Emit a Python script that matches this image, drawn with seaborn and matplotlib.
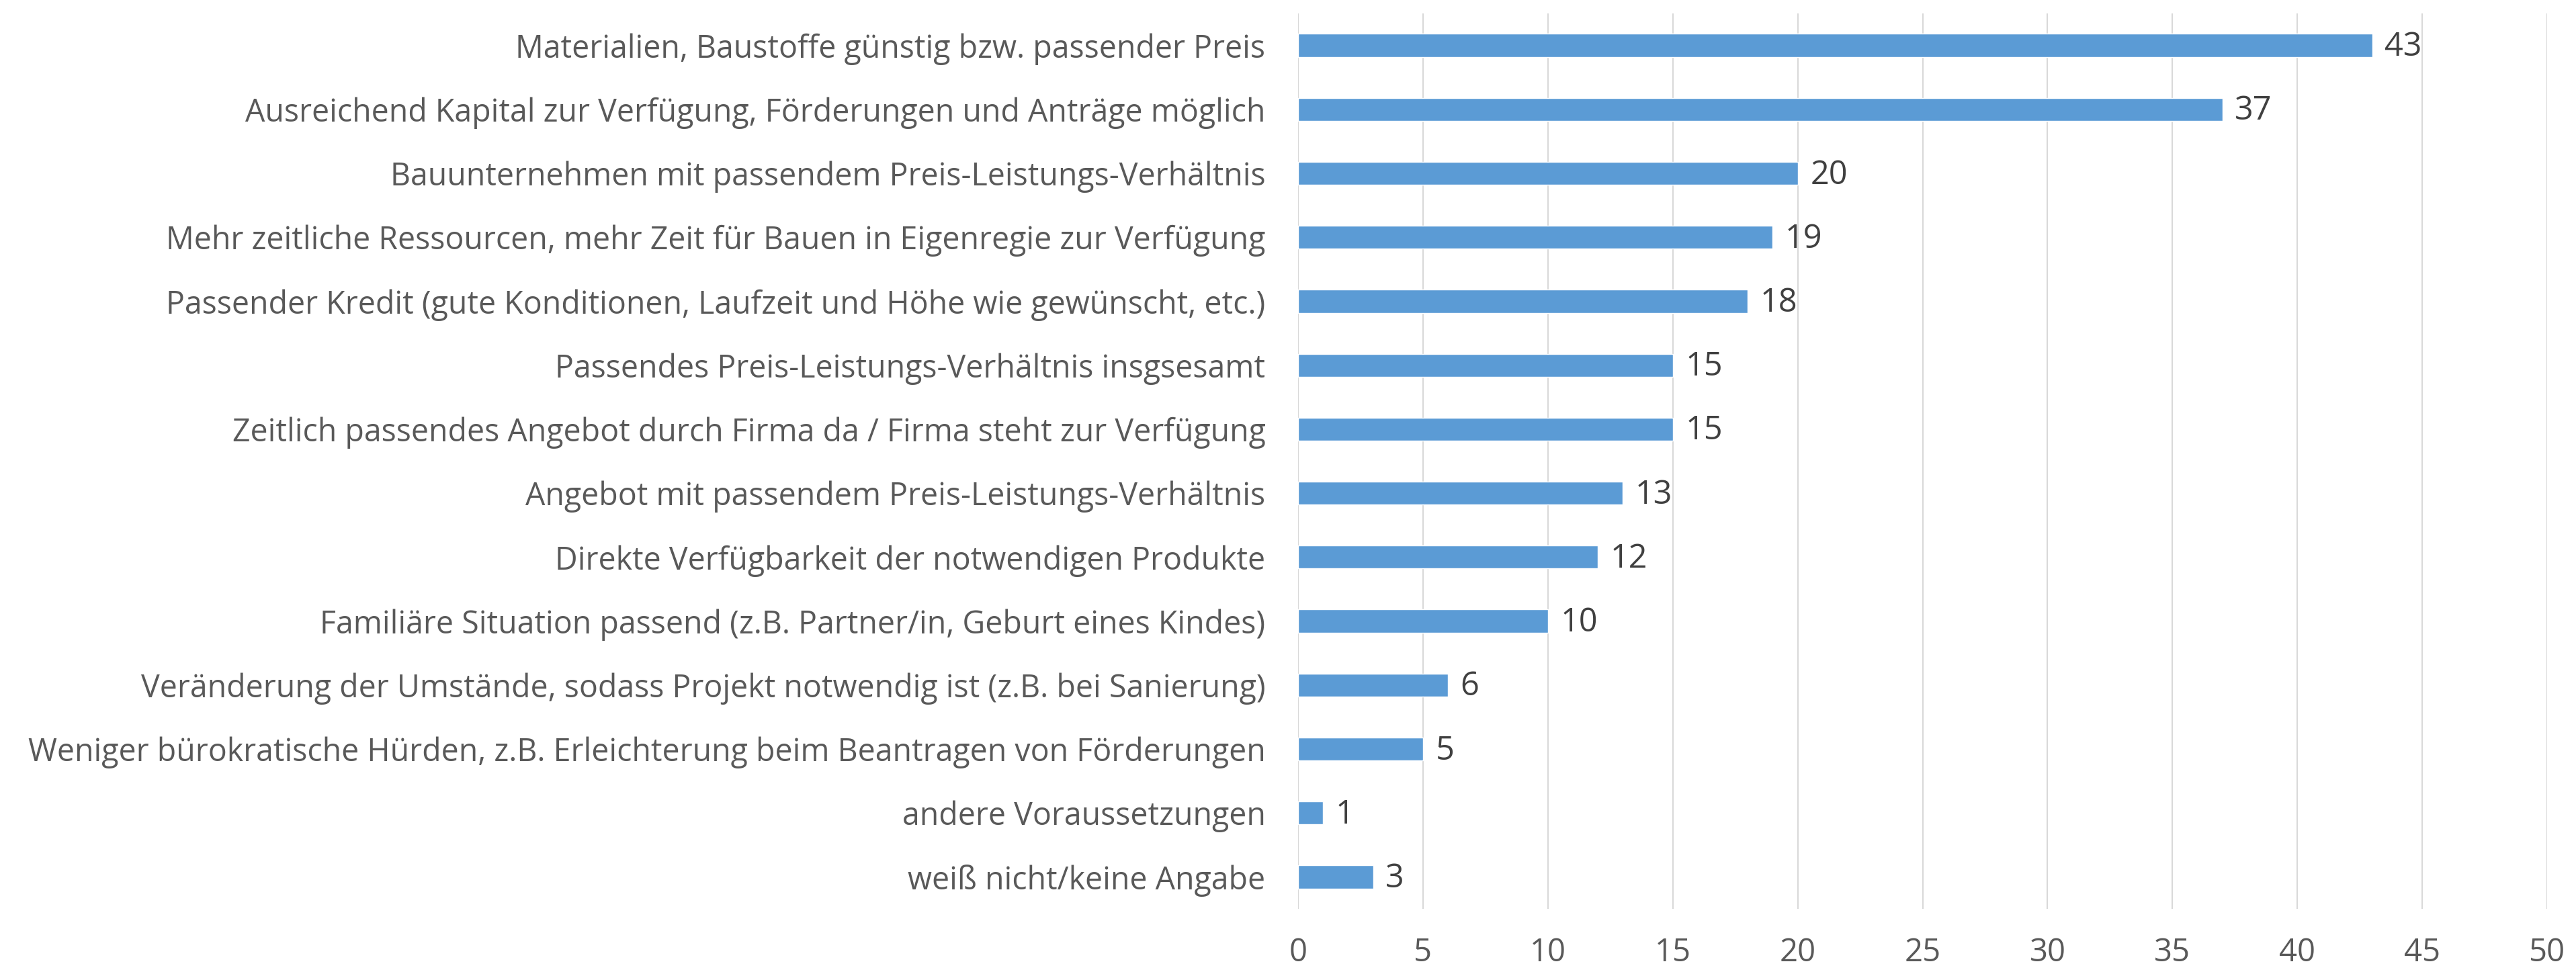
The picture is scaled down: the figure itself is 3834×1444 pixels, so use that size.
import matplotlib
matplotlib.use('Agg')
import matplotlib.pyplot as plt
import seaborn as sns
import pandas as pd

categories = [
    'Materialien, Baustoffe günstig bzw. passender Preis',
    'Ausreichend Kapital zur Verfügung, Förderungen und Anträge möglich',
    'Bauunternehmen mit passendem Preis-Leistungs-Verhältnis',
    'Mehr zeitliche Ressourcen, mehr Zeit für Bauen in Eigenregie zur Verfügung',
    'Passender Kredit (gute Konditionen, Laufzeit und Höhe wie gewünscht, etc.)',
    'Passendes Preis-Leistungs-Verhältnis insgsesamt',
    'Zeitlich passendes Angebot durch Firma da / Firma steht zur Verfügung',
    'Angebot mit passendem Preis-Leistungs-Verhältnis',
    'Direkte Verfügbarkeit der notwendigen Produkte',
    'Familiäre Situation passend (z.B. Partner/in, Geburt eines Kindes)',
    'Veränderung der Umstände, sodass Projekt notwendig ist (z.B. bei Sanierung)',
    'Weniger bürokratische Hürden, z.B. Erleichterung beim Beantragen von Förderungen',
    'andere Voraussetzungen',
    'weiß nicht/keine Angabe',
]
values = [43, 37, 20, 19, 18, 15, 15, 13, 12, 10, 6, 5, 1, 3]
xticks = [0, 5, 10, 15, 20, 25, 30, 35, 40, 45, 50]

df = pd.DataFrame({'cat': categories, 'val': values})

sns.set_style('white')
plt.rcParams['font.family'] = ['Open Sans', 'DejaVu Sans']

fig = plt.figure(figsize=(38.34, 14.44), dpi=100)
ax = fig.add_axes([1932/3834, 91/1444, 1859/3834, 1333/1444])

sns.barplot(data=df, x='val', y='cat', orient='h', color='#5B9BD5',
            saturation=1, width=0.36, ax=ax)

# value labels right of each bar
for i, v in enumerate(values):
    ax.text(v + 0.5, i + 0.03, str(v), va='center', ha='left', fontsize=35, color='#404040')

ax.set_xlim(0, 50)
ax.set_ylim(13.5, -0.5)
ax.set_xticks(xticks)
ax.set_xlabel('')
ax.set_ylabel('')
ax.grid(axis='x', color='#D9D9D9', linewidth=1.5)
ax.set_axisbelow(True)
for s in ax.spines.values():
    s.set_visible(False)
ax.tick_params(axis='both', length=0, labelsize=33.5, labelcolor='#595959')
ax.tick_params(axis='y', pad=35)
ax.tick_params(axis='x', pad=30, labelsize=34)

fig.savefig('out.png', dpi=100)
